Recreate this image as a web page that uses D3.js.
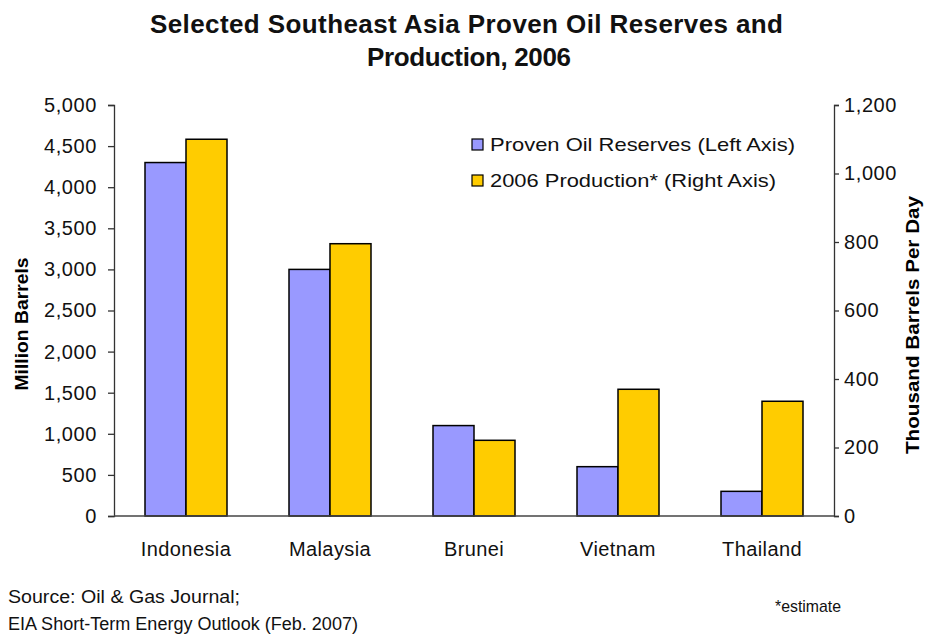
<!DOCTYPE html>
<html>
<head>
<meta charset="utf-8">
<script src="https://cdn.jsdelivr.net/npm/d3@7"></script>
<style>
  body { margin: 0; background: #fff; }
  svg { font-family: "Liberation Sans", Arial, sans-serif; }
</style>
</head>
<body>
<svg id="chart"></svg>
<script>
// data
var countries = ["Indonesia", "Malaysia", "Brunei", "Vietnam", "Thailand"]
var reserves = [4300, 3000, 1100, 600, 300]       // million barrels, left axis
var production = [1100, 795, 221, 370, 335]       // thousand bbl/day, right axis
var leftTicks = [0, 500, 1000, 1500, 2000, 2500, 3000, 3500, 4000, 4500, 5000]
var rightTicks = [0, 200, 400, 600, 800, 1000, 1200]
var seriesNames = ["Proven Oil Reserves (Left Axis)", "2006 Production* (Right Axis)"]
var colors = ["#9999ff", "#ffcc00"]

let svgWidth = 928
let svgHeight = 634
let margin = {top: 105, right: 94, bottom: 118, left: 114}
let width = svgWidth - margin.left - margin.right
let height = svgHeight - margin.top - margin.bottom

var svg = d3.select("#chart")
    .attr("width", svgWidth)
    .attr("height", svgHeight)

var chart = svg.append("g")
    .attr("transform", "translate(" + margin.left + "," + margin.top + ")")

var x = d3.scaleBand().domain(countries).range([0, width])
var yLeft = d3.scaleLinear().domain([0, 5000]).range([height, 0])
var yRight = d3.scaleLinear().domain([0, 1200]).range([height, 0])
var barW = 41

// text helper: fixed font size, stretched to the width seen in the reference
function label(parent, str, xx, yy, size, len, bold, adjust) {
    var t = parent.append("text")
        .attr("x", xx).attr("y", yy)
        .style("font-size", size + "px")
        .attr("fill", "#111")
        .text(str)
    if (bold) t.style("font-weight", "bold")
    if (len) t.attr("textLength", len).attr("lengthAdjust", adjust || "spacingAndGlyphs")
    return t
}

// title
label(svg, "Selected Southeast Asia Proven Oil Reserves and", 150, 33, 26, 633, true, "spacing")
label(svg, "Production, 2006", 367, 66, 26, 204, true, "spacing")

// bars
chart.selectAll("rect.res").data(reserves)
  .enter().append("rect")
    .attr("class", "res")
    .attr("x", (d, i) => x(countries[i]) + x.bandwidth() / 2 - barW)
    .attr("y", d => yLeft(d))
    .attr("width", barW)
    .attr("height", d => height - yLeft(d))
    .attr("fill", colors[0])
    .attr("stroke", "#000").attr("stroke-width", 1.5)

chart.selectAll("rect.prod").data(production)
  .enter().append("rect")
    .attr("class", "prod")
    .attr("x", (d, i) => x(countries[i]) + x.bandwidth() / 2)
    .attr("y", d => yRight(d))
    .attr("width", barW)
    .attr("height", d => height - yRight(d))
    .attr("fill", colors[1])
    .attr("stroke", "#000").attr("stroke-width", 1.5)

// axes
var leftAxis = d3.axisLeft(yLeft).tickValues(leftTicks).tickFormat(d3.format(",")).tickSize(6).tickPadding(11)
var rightAxis = d3.axisRight(yRight).tickValues(rightTicks).tickFormat(d3.format(",")).tickSize(5).tickPadding(5)

chart.append("g").attr("class", "y axis").call(leftAxis)
chart.append("g").attr("class", "y axis right")
    .attr("transform", "translate(" + width + ",0)").call(rightAxis)

chart.append("line")
    .attr("x1", 0).attr("x2", width)
    .attr("y1", height).attr("y2", height)
    .attr("stroke", "#444").attr("stroke-width", 1.5)

chart.selectAll(".axis path.domain").attr("stroke", "#333").attr("stroke-width", 1.3)
chart.selectAll(".axis .tick line").attr("stroke", "#333").attr("stroke-width", 1.3)
chart.selectAll(".axis text")
    .style("font-size", "20px").style("letter-spacing", "0.6px")
    .attr("fill", "#111")
    .style("font-family", "'Liberation Sans', Arial, sans-serif")

// category labels
chart.selectAll("text.cat").data(countries)
  .enter().append("text")
    .attr("class", "cat")
    .attr("x", d => x(d) + x.bandwidth() / 2)
    .attr("y", height + 40)
    .attr("text-anchor", "middle")
    .style("font-size", "20px").style("letter-spacing", "0.4px")
    .attr("fill", "#111")
    .text(d => d)

// axis titles
svg.append("text")
    .attr("transform", "translate(28,324) rotate(-90)")
    .attr("text-anchor", "middle")
    .style("font-size", "18px").style("font-weight", "bold")
    .attr("textLength", 133).attr("lengthAdjust", "spacingAndGlyphs")
    .text("Million Barrels")
svg.append("text")
    .attr("transform", "translate(919,325) rotate(-90)")
    .attr("text-anchor", "middle")
    .style("font-size", "18px").style("font-weight", "bold")
    .attr("textLength", 258).attr("lengthAdjust", "spacingAndGlyphs")
    .text("Thousand Barrels Per Day")

// legend
var legendLens = [305, 286]
var legend = svg.append("g").attr("transform", "translate(472,139)")
legend.selectAll("rect").data(seriesNames)
  .enter().append("rect")
    .attr("x", 0).attr("y", (d, i) => i * 36)
    .attr("width", 11).attr("height", 11)
    .attr("fill", (d, i) => colors[i])
    .attr("stroke", "#000").attr("stroke-width", 1.2)
legend.selectAll("text").data(seriesNames)
  .enter().append("text")
    .attr("x", 18).attr("y", (d, i) => i * 36 + 12)
    .style("font-size", "19px").attr("fill", "#111")
    .attr("textLength", (d, i) => legendLens[i]).attr("lengthAdjust", "spacingAndGlyphs")
    .text(d => d)

// footnotes
label(svg, "Source: Oil & Gas Journal;", 8, 603, 17.5, 232)
label(svg, "EIA Short-Term Energy Outlook  (Feb. 2007)", 8, 630, 17.5, 350)
label(svg, "*estimate", 775, 612, 17, 66)
</script>
</body>
</html>
